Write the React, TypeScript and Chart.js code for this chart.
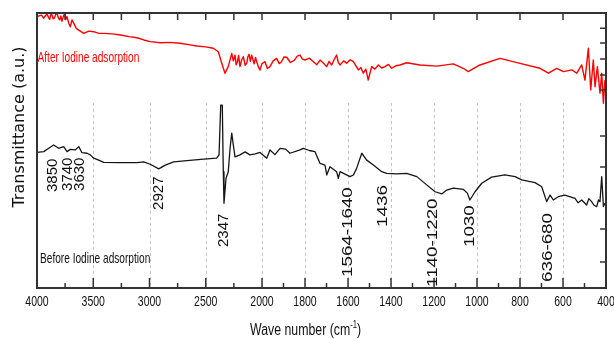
import React, { useEffect, useRef } from "react";
import { Chart, registerables } from "chart.js";

Chart.register(...registerables);

// ---- data (wavenumber in cm^-1, transmittance in a.u.) ----
const redWavenumbers = [
  4000, 3960, 3940, 3925, 3911, 3898, 3887, 3877, 3867, 3856, 3846, 3834, 3822, 3810, 3798, 3788, 3778, 3767, 3757, 3745,
  3733, 3718, 3704, 3689, 3674, 3651, 3629, 3585, 3540, 3496, 3450, 3407, 3330, 3260, 3180, 3111, 3050, 2993, 2904, 2816,
  2729, 2650, 2580, 2500, 2433, 2388, 2358, 2329, 2300, 2269, 2255, 2240, 2230, 2220, 2208, 2196, 2180, 2166, 2150, 2136,
  2125, 2115, 2103, 2092, 2080, 2070, 2058, 2047, 2032, 2018, 2000, 1986, 1975, 1963, 1948, 1932, 1920, 1910, 1898, 1885,
  1868, 1850, 1836, 1823, 1812, 1800, 1780, 1761, 1745, 1730, 1715, 1699, 1688, 1676, 1665, 1653, 1645, 1637, 1620, 1606,
  1590, 1575, 1563, 1552, 1540, 1529, 1517, 1506, 1498, 1490, 1475, 1459, 1443, 1428, 1412, 1397, 1378, 1358, 1327, 1265,
  1187, 1110, 1064, 1041, 986, 893, 800, 707, 668, 629, 598, 559, 536, 513, 498, 482, 471, 459, 451, 440,
  428, 420, 412, 405,
];
const redTransmittance = [
  98.7, 99.2, 98.1, 99.0, 99.6, 98.4, 97.7, 99.5, 99.3, 97.9, 98.1, 99.5, 99.9, 98.2, 97.5, 98.9, 97.0, 98.6, 99.6, 97.6,
  98.7, 96.3, 95.0, 97.5, 96.3, 94.4, 93.8, 92.6, 93.4, 93.2, 92.6, 92.6, 92.4, 92.0, 91.4, 91.0, 90.2, 89.6, 89.2, 89.3,
  89.0, 88.5, 88.0, 87.7, 87.2, 85.9, 81.7, 78.1, 80.5, 85.3, 82.6, 84.7, 81.2, 82.0, 84.6, 80.5, 83.0, 84.1, 81.0, 81.7,
  84.2, 85.0, 82.4, 84.7, 83.0, 81.5, 83.8, 82.3, 80.4, 79.3, 81.6, 82.3, 79.8, 80.5, 82.6, 83.5, 81.6, 82.2, 84.0, 83.9,
  82.0, 82.8, 84.3, 84.7, 83.2, 82.9, 83.6, 82.3, 81.2, 82.9, 81.8, 80.5, 82.4, 81.1, 83.0, 84.7, 82.0, 81.1, 82.6, 81.7,
  83.0, 82.3, 80.8, 79.3, 80.2, 78.1, 79.6, 75.6, 78.0, 80.5, 79.6, 81.1, 80.0, 80.5, 81.3, 79.9, 80.8, 81.1, 81.9, 81.1,
  80.7, 81.5, 79.9, 78.7, 81.1, 83.5, 81.7, 79.9, 78.1, 79.9, 78.7, 79.3, 78.1, 81.1, 75.6, 87.2, 72.0, 82.9, 73.2, 80.5,
  70.8, 78.1, 67.2, 75.6,
];

const blackWavenumbers = [
  4000, 3940, 3896, 3852, 3807, 3763, 3733, 3704, 3660, 3629, 3600, 3556, 3526, 3496, 3452, 3407, 3260, 3111, 3052, 2993,
  2918, 2860, 2785, 2667, 2518, 2403, 2382, 2367, 2353, 2344, 2338, 2320, 2300, 2284, 2269, 2255, 2240, 2196, 2150, 2107,
  2060, 2018, 1978, 1963, 1940, 1916, 1890, 1870, 1823, 1808, 1780, 1754, 1730, 1707, 1699, 1684, 1653, 1645, 1637, 1591,
  1575, 1560, 1536, 1513, 1482, 1443, 1420, 1374, 1327, 1280, 1234, 1195, 1164, 1141, 1110, 1064, 1045, 1033, 1009, 978,
  932, 870, 823, 792, 730, 699, 676, 660, 645, 622, 591, 544, 530, 513, 490, 480, 467, 455, 443, 435,
  428, 420, 412, 405,
];
const blackTransmittance = [
  49.3, 49.6, 50.8, 52.0, 50.8, 51.4, 49.6, 50.4, 50.2, 51.4, 49.2, 49.0, 48.4, 47.2, 46.5, 45.7, 45.6, 45.6, 45.9, 45.0,
  43.3, 44.7, 45.9, 46.3, 46.9, 47.2, 48.4, 66.5, 66.5, 42.3, 30.8, 39.9, 42.3, 50.8, 56.3, 52.0, 47.7, 48.4, 49.5, 48.4,
  48.8, 49.3, 47.2, 50.2, 48.5, 50.8, 50.5, 49.0, 50.2, 50.8, 50.0, 49.6, 45.3, 44.7, 41.1, 44.1, 42.3, 39.9, 42.3, 40.5,
  41.1, 43.5, 49.0, 46.5, 44.7, 42.3, 41.7, 41.5, 41.7, 40.5, 37.5, 35.0, 34.2, 35.6, 36.3, 35.9, 34.5, 32.0, 35.0, 38.1,
  40.3, 41.1, 40.5, 39.3, 38.3, 36.8, 31.4, 33.8, 32.0, 33.2, 33.8, 32.6, 31.0, 32.0, 30.2, 32.5, 31.4, 30.0, 29.6, 32.0,
  31.4, 40.5, 29.6, 30.8,
];

const xTickValues = [4000, 3500, 3000, 2500, 2000, 1800, 1600, 1400, 1200, 1000, 800, 600, 400];
const xMinorTickValues = [3750, 3250, 2750, 2250, 1900, 1700, 1500, 1300, 1100, 900, 700, 500];
const topTickValues = [3750, 3500, 3250, 3000, 2750, 2500, 2250, 2000, 1800, 1600, 1400, 1200, 1000, 800, 600];
const gridValues = [3500, 3000, 2500, 2000, 1800, 1600, 1400, 1200, 1000, 800, 600];
const rightTickValues = [94.5, 89.1, 83.3, 77.5, 72.0, 55.3, 44.0, 21.5, 9.5];

const peakLabels = ["3850", "3740", "3630", "2927", "2347", "1564-1640", "1436", "1140-1220", "1030", "636-680"];
const peakLabelWavenumbers = [3853, 3724, 3613, 2916, 2338, 1600, 1437, 1205, 1033, 670];
const peakLabelBase = [34.9, 35.3, 35.3, 28.4, 14.9, 4.0, 22.2, 0.4, 14.9, 2.2];

const seriesNames = ["After Iodine adsorption", "Before Iodine adsorption"];
const xAxisTitle = "Wave number (cm";
const yAxisTitle = "Transmittance (a.u.)";

// The original axis is compressed above 2000 cm^-1
const BREAK = 2000;
const HIGH_FACTOR = 0.5233;
const toAxis = (w: number) => (w <= BREAK ? w : BREAK + (w - BREAK) * HIGH_FACTOR);

const SANS = '"Liberation Sans", Arial, sans-serif';

function drawText(
  ctx: CanvasRenderingContext2D,
  text: string,
  x: number,
  y: number,
  font: string,
  color: string,
  sx: number,
  align: CanvasTextAlign,
  baseline: CanvasTextBaseline,
  rotate: boolean
) {
  ctx.save();
  ctx.translate(x, y);
  ctx.scale(sx, 1);
  if (rotate) ctx.rotate(-Math.PI / 2);
  ctx.font = font;
  ctx.fillStyle = color;
  ctx.textAlign = align;
  ctx.textBaseline = baseline;
  ctx.fillText(text, 0, 0);
  ctx.restore();
}

const overlayPlugin = {
  id: "ftirOverlay",
  beforeDatasetsDraw(chart: any) {
    const { ctx, chartArea, scales } = chart;
    const xs = scales.x;
    const ys = scales.y;
    ctx.save();
    ctx.strokeStyle = "#c4c4c4";
    ctx.lineWidth = 1;
    ctx.setLineDash([3, 3]);
    const yTop = ys.getPixelForValue(67.3);
    for (const w of gridValues) {
      const px = Math.round(xs.getPixelForValue(toAxis(w))) + 0.5;
      ctx.beginPath();
      ctx.moveTo(px, yTop);
      ctx.lineTo(px, chartArea.bottom);
      ctx.stroke();
    }
    ctx.restore();
  },
  afterDatasetsDraw(chart: any) {
    const { ctx, chartArea, scales } = chart;
    const xs = scales.x;
    const ys = scales.y;
    const { left, right, top, bottom } = chartArea;
    ctx.save();
    // frame
    ctx.strokeStyle = "#333";
    ctx.lineWidth = 2;
    ctx.setLineDash([]);
    ctx.strokeRect(left, top, right - left, bottom - top);
    // ticks
    ctx.lineWidth = 1.5;
    ctx.beginPath();
    for (const w of xTickValues) {
      const px = xs.getPixelForValue(toAxis(w));
      ctx.moveTo(px, bottom);
      ctx.lineTo(px, bottom - 10);
    }
    for (const w of xMinorTickValues) {
      const px = xs.getPixelForValue(toAxis(w));
      ctx.moveTo(px, bottom);
      ctx.lineTo(px, bottom - 5);
    }
    for (const w of topTickValues) {
      const px = xs.getPixelForValue(toAxis(w));
      ctx.moveTo(px, top);
      ctx.lineTo(px, top + 7);
    }
    for (const v of rightTickValues) {
      const py = ys.getPixelForValue(v);
      ctx.moveTo(right, py);
      ctx.lineTo(right - 6, py);
    }
    ctx.stroke();
    ctx.restore();

    // x tick labels
    for (const w of xTickValues) {
      const px = xs.getPixelForValue(toAxis(w));
      drawText(ctx, String(w), px, 306, `15px ${SANS}`, "#111", 0.7, "center", "alphabetic", false);
    }
    // x axis title with superscript
    {
      ctx.save();
      const sx = 0.77;
      ctx.font = `16px ${SANS}`;
      const w1 = ctx.measureText(xAxisTitle).width;
      ctx.font = `10px ${SANS}`;
      const w2 = ctx.measureText("-1").width;
      ctx.restore();
      const total = (w1 + w2 + 5) * sx;
      const cx = (left + right) / 2 - 16;
      const x0 = cx - total / 2;
      drawText(ctx, xAxisTitle, x0, 335, `16px ${SANS}`, "#111", sx, "left", "alphabetic", false);
      drawText(ctx, "-1", x0 + w1 * sx, 328, `10px ${SANS}`, "#111", sx, "left", "alphabetic", false);
      drawText(ctx, ")", x0 + (w1 + w2) * sx, 335, `16px ${SANS}`, "#111", sx, "left", "alphabetic", false);
    }
    // y axis title
    drawText(ctx, yAxisTitle, 23.5, 127, '16px "DejaVu Sans", sans-serif', "#111", 0.95, "center", "alphabetic", true);

    // series labels
    drawText(ctx, seriesNames[0], left + 0.5, 61.5, `15px ${SANS}`, "#ff0000", 0.675, "left", "alphabetic", false);
    drawText(ctx, seriesNames[1], left + 3, 263, `15px ${SANS}`, "#111", 0.675, "left", "alphabetic", false);

    // peak labels (rotated)
    peakLabels.forEach((t, i) => {
      const px = xs.getPixelForValue(toAxis(peakLabelWavenumbers[i]));
      const py = ys.getPixelForValue(peakLabelBase[i]);
      const big = peakLabelWavenumbers[i] < 2000;
      const size = big ? 18.8 : 15;
      const sx = big ? 0.74 : 0.93;
      drawText(ctx, t, px, py, `${size}px ${SANS}`, "#111", sx, "left", "middle", true);
    });
  },
};

export default function App() {
  const canvasRef = useRef<HTMLCanvasElement | null>(null);

  useEffect(() => {
    if (!canvasRef.current) return;
    const chart = new Chart(canvasRef.current, {
      type: "line",
      data: {
        datasets: [
          {
            label: seriesNames[0],
            data: redWavenumbers.map((w, i) => ({ x: toAxis(w), y: redTransmittance[i] })),
            borderColor: "#ff0000",
            borderWidth: 1.4,
            pointRadius: 0,
            tension: 0,
            borderJoinStyle: "round",
          },
          {
            label: seriesNames[1],
            data: blackWavenumbers.map((w, i) => ({ x: toAxis(w), y: blackTransmittance[i] })),
            borderColor: "#151515",
            borderWidth: 1.3,
            pointRadius: 0,
            tension: 0,
            borderJoinStyle: "round",
          },
        ],
      },
      options: {
        responsive: false,
        animation: false,
        devicePixelRatio: 1,
        layout: { padding: { left: 37, right: 8, top: 13, bottom: 51 } },
        plugins: { legend: { display: false }, tooltip: { enabled: false }, title: { display: false } },
        scales: {
          x: { type: "linear", min: toAxis(400), max: toAxis(4000), reverse: true, display: false },
          y: { type: "linear", min: 0, max: 100, display: false },
        },
      },
      plugins: [overlayPlugin],
    });
    return () => chart.destroy();
  }, []);

  return (
    <div style={{ position: "absolute", left: 0, top: 0, width: 614, height: 339, background: "#fff" }}>
      <canvas ref={canvasRef} width={614} height={339} />
    </div>
  );
}
